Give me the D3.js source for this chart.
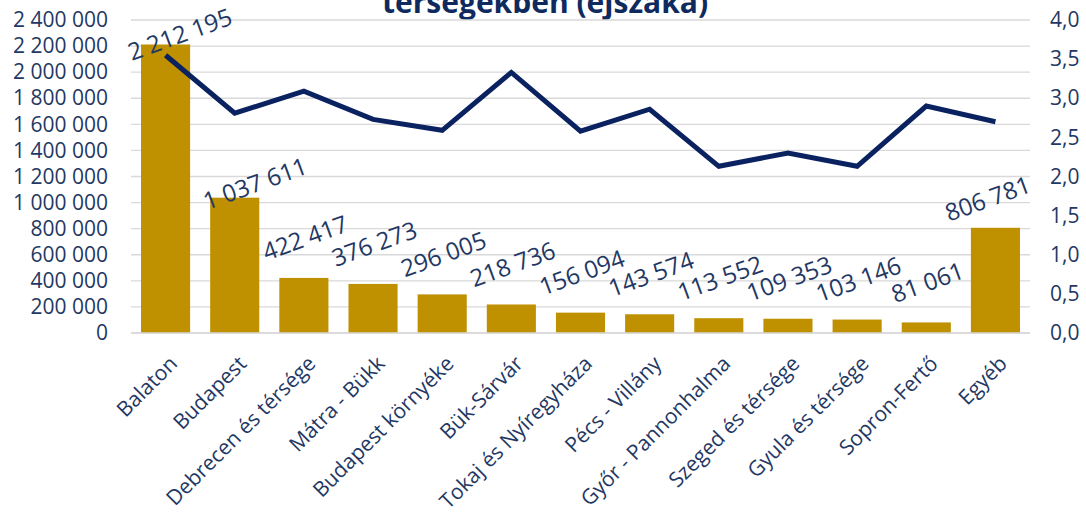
<!DOCTYPE html>
<html>
<head>
<meta charset="utf-8">
<script src="https://cdn.jsdelivr.net/npm/d3@7"></script>
<style>
  html, body { margin: 0; padding: 0; background: #ffffff; }
  svg { display: block; }
  text { font-family: "Open Sans", "Noto Sans", sans-serif; }
</style>
</head>
<body>
<svg id="chart" width="1086" height="513"></svg>
<script>
// ---- data ----
const categories = ["Balaton", "Budapest", "Debrecen és térsége", "Mátra - Bükk", "Budapest környéke",
  "Bük-Sárvár", "Tokaj és Nyíregyháza", "Pécs - Villány", "Győr - Pannonhalma", "Szeged és térsége",
  "Gyula és térsége", "Sopron-Fertő", "Egyéb"];
const nights = [2212195, 1037611, 422417, 376273, 296005, 218736, 156094, 143574, 113552, 109353, 103146, 81061, 806781];
const avgStay = [3.55, 2.81, 3.09, 2.73, 2.59, 3.33, 2.58, 2.86, 2.13, 2.30, 2.13, 2.90, 2.70];
const leftTicks = [0, 200000, 400000, 600000, 800000, 1000000, 1200000, 1400000, 1600000, 1800000, 2000000, 2200000, 2400000];
const rightTicks = [0, 0.5, 1, 1.5, 2, 2.5, 3, 3.5, 4];
const titleLine = "térségekben (éjszaka)";

// ---- layout ----
const svg = d3.select("#chart");
const plot = { left: 131, right: 1030, top: 20, bottom: 333 };
const navy = "#1F3864";
const lineColor = "#0B2260";
const barColor = "#BF9000";
const gridColor = "#D9D9D9";

const x = d3.scaleBand().domain(categories).range([plot.left, plot.right]).paddingInner(0.29).paddingOuter(0.145);
const yL = d3.scaleLinear().domain([0, 2400000]).range([plot.bottom, plot.top]);
const yR = d3.scaleLinear().domain([0, 4]).range([plot.bottom, plot.top]);

const fmtSpace = v => d3.format(",")(v).replace(/,/g, " ");
const fmtComma = v => d3.format(".1f")(v).replace(".", ",");

// title (only its bottom line is visible, cut at the top edge as in the original)
svg.append("text").attr("x", 545).attr("y", 13).attr("text-anchor", "middle")
  .attr("font-size", 30).attr("font-weight", 700).attr("fill", "#0F2A5E").text(titleLine);

// gridlines
svg.append("g").selectAll("line").data(leftTicks).join("line")
  .attr("x1", plot.left).attr("x2", plot.right)
  .attr("y1", d => yL(d)).attr("y2", d => yL(d))
  .attr("stroke", gridColor).attr("stroke-width", 1.3);

// left axis
const gl = svg.append("g").attr("transform", `translate(${plot.left},0)`)
  .call(d3.axisLeft(yL).tickValues(leftTicks).tickFormat(fmtSpace).tickSize(0).tickPadding(23));
gl.select(".domain").remove();
gl.selectAll("text").attr("font-size", 21).attr("fill", navy).attr("font-family", "Open Sans");

// right axis
const gr = svg.append("g").attr("transform", `translate(${plot.right},0)`)
  .call(d3.axisRight(yR).tickValues(rightTicks).tickFormat(fmtComma).tickSize(0).tickPadding(20));
gr.select(".domain").remove();
gr.selectAll("text").attr("font-size", 21).attr("fill", navy).attr("font-family", "Open Sans");

// bars
svg.append("g").selectAll("rect").data(categories).join("rect")
  .attr("x", d => x(d)).attr("width", x.bandwidth())
  .attr("y", (d, i) => yL(nights[i])).attr("height", (d, i) => plot.bottom - yL(nights[i]))
  .attr("fill", barColor);

// x axis
const gx = svg.append("g").attr("transform", `translate(0,${plot.bottom})`)
  .call(d3.axisBottom(x).tickSize(0).tickFormat(d => d));
gx.select(".domain").attr("stroke", gridColor).attr("stroke-width", 1.3)
  .attr("d", `M${plot.left},0H${plot.right}`);
gx.selectAll("text")
  .attr("font-size", 21).attr("fill", navy).attr("font-family", "Open Sans")
  .attr("text-anchor", "end").attr("dy", 0).attr("y", 0)
  .attr("transform", "translate(13,32) rotate(-45)");

// line
const line = d3.line().x((d, i) => x(categories[i]) + x.bandwidth() / 2).y(d => yR(d));
svg.append("path").datum(avgStay).attr("d", line)
  .attr("fill", "none").attr("stroke", lineColor).attr("stroke-width", 5)
  .attr("stroke-linejoin", "miter").attr("stroke-linecap", "butt");

// data labels (rotated), with hand-placed nudges for a few like the original
const labelNudge = { 0: [14, -11], 1: [20, -15], 12: [-8, -30] };
svg.append("g").selectAll("text").data(categories).join("text")
  .attr("transform", (d, i) => {
    const n = labelNudge[i] || [1, -41];
    const cx = x(d) + x.bandwidth() / 2 + n[0];
    const cy = yL(nights[i]) + n[1];
    return `translate(${cx},${cy}) rotate(-20)`;
  })
  .attr("text-anchor", "middle").attr("dominant-baseline", "central")
  .attr("font-size", 24).attr("fill", navy)
  .text((d, i) => fmtSpace(nights[i]));
</script>
</body>
</html>
